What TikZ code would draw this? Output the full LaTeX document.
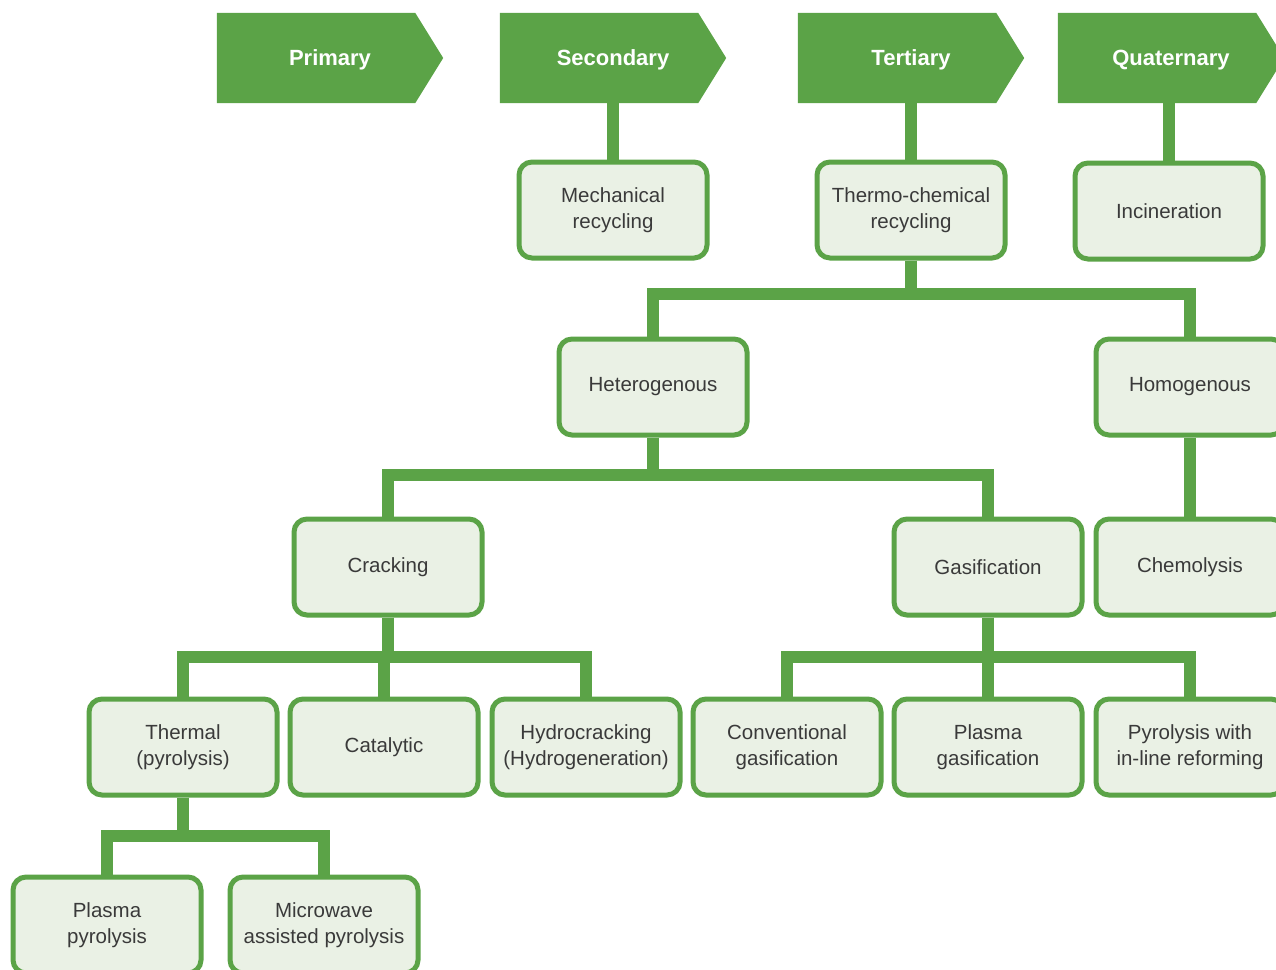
\documentclass[tikz,border=0pt]{standalone}
\usepackage{fontspec}
\setmainfont{Liberation Sans}
\usetikzlibrary{calc}
\definecolor{grn}{HTML}{5BA347}
\definecolor{boxfill}{HTML}{EAF1E5}
\definecolor{txt}{HTML}{3A3A3A}
\tikzset{
  hdr/.style={minimum width=226pt, minimum height=90pt, inner sep=0pt, text=white,
    font=\fontsize{22}{26}\selectfont\bfseries},
  box/.style={draw=grn, line width=5pt, fill=boxfill, rounded corners=13pt,
    minimum width=188pt, minimum height=96pt, align=center, text=txt, inner sep=2pt,
    font=\fontsize{20.5}{26}\selectfont},
  conn/.style={draw=grn, line width=12pt, line join=miter},
}
\newcommand{\hdrshape}[1]{\fill[grn] (#1.north west) -- ($(#1.north east)+(-28,0)$) -- (#1.east) -- ($(#1.south east)+(-28,0)$) -- (#1.south west) -- cycle;}
\newcommand{\bus}[3][.5]{\draw[conn] (#2.south) |- ($(#2.south)!#1!(#3.north)$) -| (#3.north);}
\begin{document}
\begin{tikzpicture}[x=1pt,y=-1pt]
\useasboundingbox (0,0) rectangle (1276,969);
\clip (0,0) rectangle (1276,969);
% headers
\node[hdr] (h1) at (330,58) {};
\node[hdr] (h2) at (613,58) {};
\node[hdr] (h3) at (911,58) {};
\node[hdr] (h4) at (1171,58) {};
\hdrshape{h1}\hdrshape{h2}\hdrshape{h3}\hdrshape{h4}
\node[hdr, yshift=-2pt] (t1) at (h1) {Primary};
\node[hdr, yshift=-2pt] (t2) at (h2) {Secondary};
\node[hdr, yshift=-2pt] (t3) at (h3) {Tertiary};
\node[hdr, yshift=-2pt] (t4) at (h4) {Quaternary};
% boxes
\node[box] (mech) at (613,210) {Mechanical\\recycling};
\node[box] (thermo) at (911,210) {Thermo-chemical\\recycling};
\node[box] (incin) at (1169,211) {Incineration};
\node[box] (hetero) at (653,387) {Heterogenous};
\node[box] (homo) at (1190,387) {Homogenous};
\node[box] (crack) at (388,567) {Cracking};
\node[box] (gas) at (988,567) {Gasification};
\node[box] (chem) at (1190,567) {Chemolysis};
\node[box] (thermal) at (183,747) {Thermal\\(pyrolysis)};
\node[box] (cat) at (384,747) {Catalytic};
\node[box] (hydro) at (586,747) {Hydrocracking\\(Hydrogeneration)};
\node[box] (conv) at (787,747) {Conventional\\gasification};
\node[box] (plgas) at (988,747) {Plasma\\gasification};
\node[box] (pyrol) at (1190,747) {Pyrolysis with\\in-line reforming};
\node[box] (plpyr) at (107,925) {Plasma\\pyrolysis};
\node[box] (micro) at (324,925) {Microwave\\assisted pyrolysis};
% connectors
\draw[conn] (h2.south) -- (mech.north);
\draw[conn] (h3.south) -- (thermo.north);
\draw[conn] (h4.south -| incin.north) -- (incin.north);
\bus[.44]{thermo}{hetero}
\bus[.44]{thermo}{homo}
\draw[conn] (homo.south) -- (chem.north);
\bus[.47]{hetero}{crack}
\bus[.47]{hetero}{gas}
\bus{crack}{thermal}
\bus{crack}{cat}
\bus{crack}{hydro}
\bus{gas}{conv}
\bus{gas}{plgas}
\bus{gas}{pyrol}
\bus{thermal}{plpyr}
\bus{thermal}{micro}
\end{tikzpicture}
\end{document}
